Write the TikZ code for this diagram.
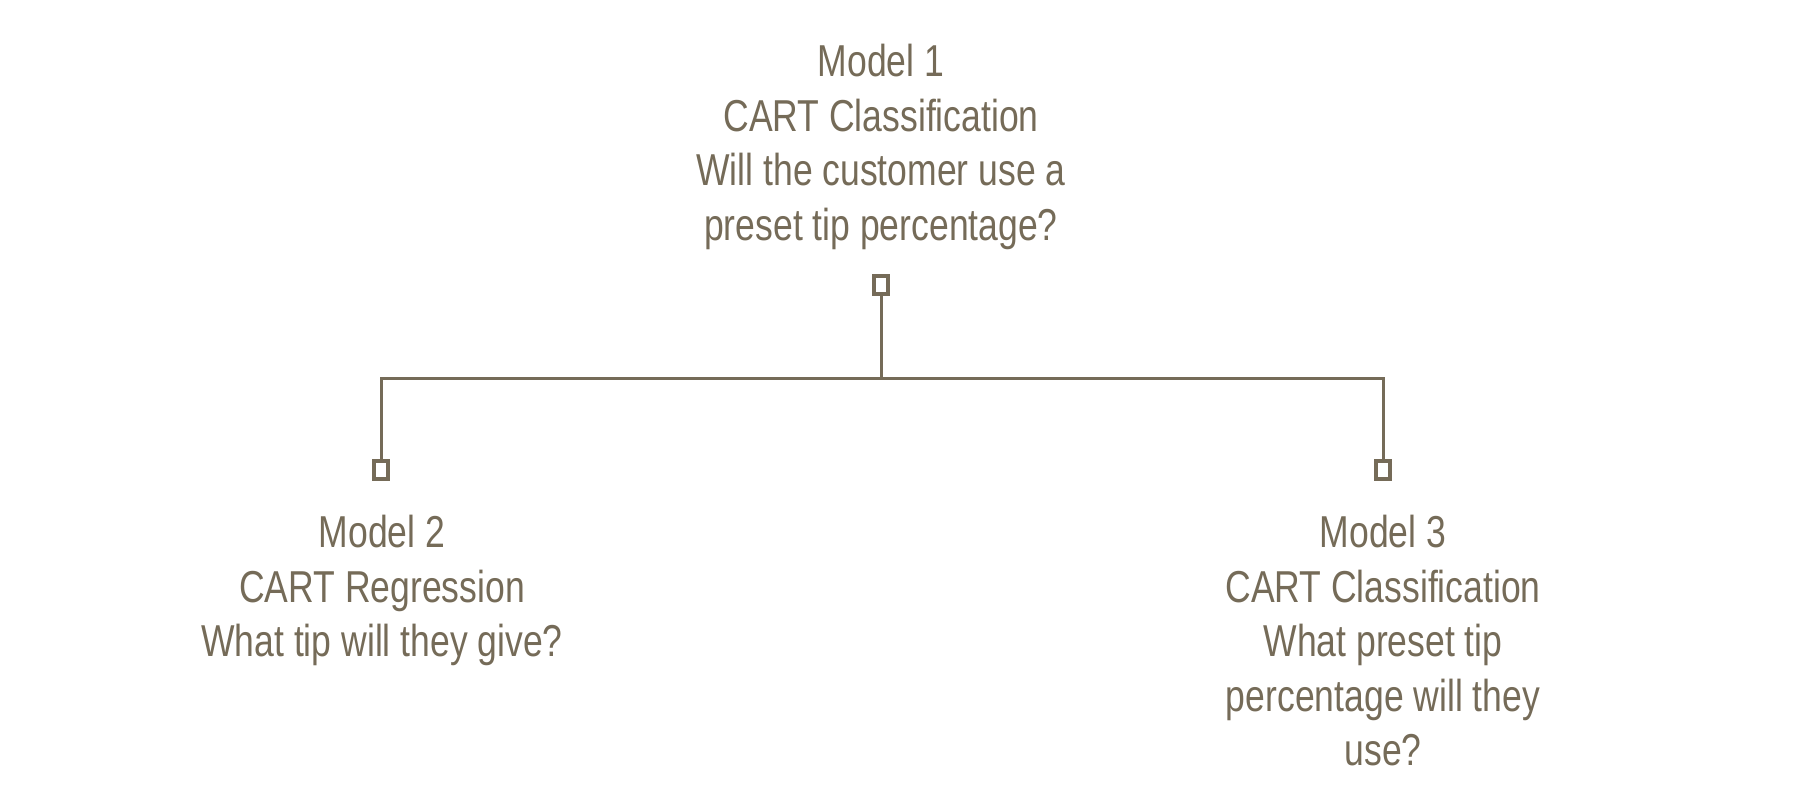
\documentclass[tikz,border=0pt]{standalone}
\usepackage{fontspec}
\setmainfont[FakeStretch=0.795]{Liberation Sans}
\definecolor{ink}{RGB}{117,107,88}
\begin{document}
\begin{tikzpicture}[x=1pt,y=-1pt,
  label/.style={align=center,inner sep=0pt,anchor=north,text=ink,
    font=\fontsize{44.7}{54.5}\selectfont},
  marker/.style={draw=ink,line width=3.8pt,minimum width=14.5pt,minimum height=18.5pt,inner sep=0pt},
  link/.style={draw=ink,line width=3pt}]
\useasboundingbox (0,0) rectangle (1798,795);
\node[label] (m1) at (881,44) {Model 1\\CART Classification\\Will the customer use a\\preset tip percentage?};
\node[label] (m2) at (382,515) {Model 2\\CART Regression\\What tip will they give?};
\node[label] (m3) at (1383,515) {Model 3\\CART Classification\\What preset tip\\percentage will they\\use?};
\node[marker] (s1) at (881,285) {};
\node[marker] (s2) at (381,470) {};
\node[marker] (s3) at (1383,470) {};
\coordinate (j) at (881,378);
\draw[link] (s1.south) -- (j);
\draw[link] (s2.north) |- (s3.north |- j) -- (s3.north);
\end{tikzpicture}
\end{document}
